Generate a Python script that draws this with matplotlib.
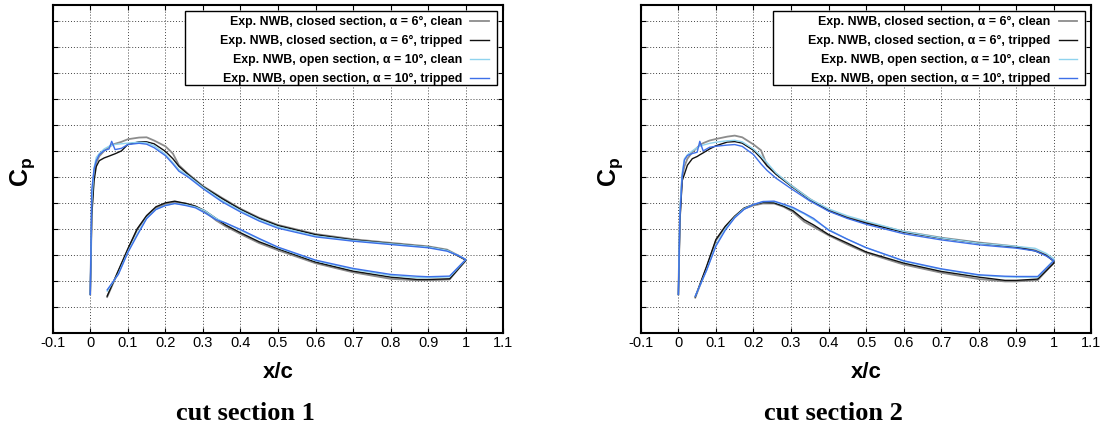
import numpy as np
import matplotlib
matplotlib.use("Agg")
import matplotlib.pyplot as plt
from matplotlib.patches import Rectangle

plt.rcParams['font.family'] = ['Liberation Sans', 'DejaVu Sans']
plt.rcParams['mathtext.fontset'] = 'custom'
plt.rcParams['mathtext.rm'] = 'Liberation Sans'
plt.rcParams['mathtext.bf'] = 'Liberation Sans:bold'

# chordwise stations (leading edge -> trailing edge)
x_upper = [0.0, 0.004, 0.01, 0.016, 0.024, 0.037, 0.05, 0.057, 0.066, 0.083,
           0.1, 0.13, 0.15, 0.17, 0.2, 0.22, 0.236, 0.26, 0.3, 0.35,
           0.4, 0.45, 0.5, 0.6, 0.7, 0.8, 0.9, 0.95, 0.98, 1.0]
x_lower = [0.045, 0.075, 0.1, 0.125, 0.15, 0.175, 0.2, 0.225, 0.255, 0.28,
           0.305, 0.335, 0.36, 0.4, 0.45, 0.5, 0.6, 0.7, 0.8, 0.87,
           0.9, 0.957, 1.0]

# cut section 1
cp1_up_closed_clean = [0.905, 0.25, -0.02, -0.11, -0.16, -0.2, -0.23, -0.245, -0.255, -0.27,
                       -0.29, -0.303, -0.305, -0.28, -0.236, -0.18, -0.09, -0.025, 0.07, 0.16,
                       0.245, 0.315, 0.37, 0.44, 0.48, 0.508, 0.535, 0.56, 0.605, 0.64]
cp1_up_closed_trip = [0.905, 0.3, 0.03, -0.08, -0.125, -0.146, -0.16, -0.168, -0.178, -0.2,
                      -0.25, -0.27, -0.27, -0.255, -0.197, -0.14, -0.082, -0.02, 0.075, 0.165,
                      0.25, 0.32, 0.375, 0.445, 0.485, 0.513, 0.54, 0.565, 0.61, 0.64]
cp1_up_open_clean = [0.905, 0.2, -0.07, -0.15, -0.18, -0.215, -0.236, -0.24, -0.25, -0.255,
                     -0.26, -0.267, -0.262, -0.24, -0.175, -0.11, -0.056, -0.01, 0.08, 0.18,
                     0.26, 0.33, 0.385, 0.455, 0.49, 0.515, 0.54, 0.565, 0.605, 0.635]
cp1_up_open_trip = [0.905, 0.1, -0.06, -0.125, -0.172, -0.203, -0.215, -0.274, -0.21, -0.22,
                    -0.249, -0.259, -0.252, -0.225, -0.164, -0.1, -0.044, 0.0, 0.09, 0.19,
                    0.27, 0.34, 0.395, 0.462, 0.495, 0.521, 0.546, 0.572, 0.605, 0.636]
cp1_lo_closed_clean = [0.925, 0.725, 0.56, 0.405, 0.305, 0.24, 0.21, 0.195, 0.205, 0.226,
                       0.265, 0.335, 0.38, 0.44, 0.51, 0.565, 0.665, 0.735, 0.785, 0.797,
                       0.797, 0.79, 0.64]
cp1_lo_closed_trip = [0.918, 0.72, 0.555, 0.4, 0.298, 0.23, 0.2, 0.187, 0.205, 0.226,
                      0.26, 0.32, 0.37, 0.43, 0.5, 0.554, 0.656, 0.726, 0.772, 0.79,
                      0.79, 0.785, 0.645]
cp1_lo_open_clean = [0.88, 0.745, 0.578, 0.44, 0.318, 0.25, 0.22, 0.205, 0.215, 0.232,
                     0.26, 0.32, 0.355, 0.41, 0.48, 0.545, 0.645, 0.712, 0.759, 0.775,
                     0.775, 0.77, 0.638]
cp1_lo_open_trip = [0.87, 0.75, 0.583, 0.45, 0.322, 0.251, 0.221, 0.205, 0.221, 0.238,
                    0.277, 0.33, 0.354, 0.405, 0.475, 0.541, 0.641, 0.705, 0.751, 0.765,
                    0.769, 0.764, 0.636]

# cut section 2
cp2_up_closed_clean = [0.905, 0.3, 0.0, -0.08, -0.14, -0.19, -0.225, -0.245, -0.26, -0.28,
                       -0.292, -0.31, -0.318, -0.305, -0.25, -0.205, -0.09, -0.025, 0.065, 0.17,
                       0.255, 0.31, 0.35, 0.42, 0.468, 0.505, 0.536, 0.565, 0.6, 0.645]
cp2_up_closed_trip = [0.905, 0.35, 0.03, -0.02, -0.09, -0.14, -0.157, -0.17, -0.185, -0.215,
                      -0.24, -0.268, -0.272, -0.26, -0.205, -0.145, -0.085, -0.02, 0.07, 0.175,
                      0.26, 0.315, 0.356, 0.426, 0.472, 0.51, 0.541, 0.57, 0.605, 0.651]
cp2_up_open_clean = [0.905, 0.25, -0.03, -0.14, -0.17, -0.2, -0.225, -0.236, -0.245, -0.258,
                     -0.267, -0.278, -0.282, -0.27, -0.215, -0.16, -0.11, -0.03, 0.065, 0.17,
                     0.246, 0.3, 0.341, 0.42, 0.47, 0.51, 0.535, 0.55, 0.59, 0.63]
cp2_up_open_trip = [0.905, 0.3, -0.005, -0.13, -0.165, -0.18, -0.19, -0.274, -0.2, -0.228,
                    -0.236, -0.245, -0.249, -0.235, -0.172, -0.1, -0.05, 0.01, 0.09, 0.185,
                    0.264, 0.32, 0.365, 0.438, 0.485, 0.523, 0.549, 0.57, 0.61, 0.645]
cp2_lo_closed_clean = [0.93, 0.7, 0.49, 0.385, 0.305, 0.245, 0.22, 0.205, 0.205, 0.23,
                       0.27, 0.345, 0.385, 0.45, 0.52, 0.585, 0.675, 0.738, 0.787, 0.805,
                       0.805, 0.795, 0.66]
cp2_lo_closed_trip = [0.923, 0.69, 0.482, 0.38, 0.303, 0.24, 0.213, 0.197, 0.2, 0.225,
                      0.26, 0.33, 0.37, 0.444, 0.51, 0.578, 0.664, 0.728, 0.772, 0.797,
                      0.797, 0.787, 0.664]
cp2_lo_open_clean = [0.918, 0.72, 0.525, 0.4, 0.31, 0.245, 0.213, 0.19, 0.19, 0.215,
                     0.245, 0.285, 0.33, 0.405, 0.48, 0.545, 0.65, 0.712, 0.758, 0.77,
                     0.772, 0.772, 0.64]
cp2_lo_open_trip = [0.918, 0.72, 0.533, 0.41, 0.315, 0.25, 0.213, 0.19, 0.187, 0.21,
                    0.235, 0.28, 0.32, 0.41, 0.48, 0.545, 0.646, 0.708, 0.754, 0.765,
                    0.767, 0.767, 0.645]

labels = ['Exp. NWB, closed section, α = 6°, clean',
          'Exp. NWB, closed section, α = 6°, tripped',
          'Exp. NWB, open section, α = 10°, clean',
          'Exp. NWB, open section, α = 10°, tripped']
colors = ['#8c8c8c', '#111111', '#8fd3ee', '#3d6fe8']
widths = [1.3, 1.0, 1.0, 1.0]

xticks = [-0.1, 0, 0.1, 0.2, 0.3, 0.4, 0.5, 0.6, 0.7, 0.8, 0.9, 1.0, 1.1]
xticklabels = ['-0.1', '0', '0.1', '0.2', '0.3', '0.4', '0.5', '0.6', '0.7', '0.8', '0.9', '1', '1.1']
yticks = [-1.2, -1.0, -0.8, -0.6, -0.4, -0.2, 0.0, 0.2, 0.4, 0.6, 0.8, 1.0]

panels = [
    ('cut section 1', 0.0478,
     [cp1_up_closed_clean, cp1_up_closed_trip, cp1_up_open_clean, cp1_up_open_trip],
     [cp1_lo_closed_clean, cp1_lo_closed_trip, cp1_lo_open_clean, cp1_lo_open_trip]),
    ('cut section 2', 0.581,
     [cp2_up_closed_clean, cp2_up_closed_trip, cp2_up_open_clean, cp2_up_open_trip],
     [cp2_lo_closed_clean, cp2_lo_closed_trip, cp2_lo_open_clean, cp2_lo_open_trip]),
]

fig = plt.figure(figsize=(11.03, 4.26), dpi=100)

for title, left, uppers, lowers in panels:
    ax = fig.add_axes([left, 0.219, 0.4085, 0.769])
    for up, lo, lab, c, lw in zip(uppers, lowers, labels, colors, widths):
        # lower side LE->TE, then upper side TE->LE
        xs = np.concatenate([x_lower, x_upper[::-1]])
        ys = np.concatenate([lo, up[::-1]])
        ax.plot(xs, ys, color=c, lw=lw, label=lab)

    ax.set_xlim(-0.1, 1.1)
    ax.set_ylim(1.2, -1.323)
    ax.set_xticks(xticks)
    ax.set_xticklabels(xticklabels)
    ax.set_yticks(yticks)
    ax.set_yticklabels([])
    ax.tick_params(direction='in', top=True, right=True, length=3.5, width=0.8,
                   labelsize=10.5, pad=2.5)
    ax.grid(True, linestyle=(0, (1, 2)), color='#444444', lw=0.7)
    for sp in ax.spines.values():
        sp.set_linewidth(1.5)

    ax.text(0.5, -0.122, 'x/c', transform=ax.transAxes, ha='center', va='center',
            fontsize=16, fontweight='bold')
    ax.text(-0.066, 0.49, r'$\mathbf{C_p}$', transform=ax.transAxes, ha='center',
            va='center', rotation=90, fontsize=18)

    # key box, wider than the entries it holds
    ax.add_patch(Rectangle((0.2936, 0.756), 0.986 - 0.2936, 0.9817 - 0.756,
                           transform=ax.transAxes, facecolor='white',
                           edgecolor='black', lw=1.0, zorder=4.5))
    leg = ax.legend(loc='upper right', bbox_to_anchor=(0.9683, 0.9664),
                    borderaxespad=0, borderpad=0, markerfirst=False, frameon=False,
                    prop={'size': 8.9, 'weight': 'bold'}, handlelength=1.5,
                    handletextpad=0.65, labelspacing=0.56)
    leg.set_zorder(5)
    for t in leg.get_texts():
        t.set_ha('right')

    fig.text(left + 0.2042 - 33 / 1103, 6 / 426, title, ha='center', va='baseline',
             fontsize=19, fontweight='bold', family='Liberation Serif')

fig.savefig('out.png', dpi=100)
